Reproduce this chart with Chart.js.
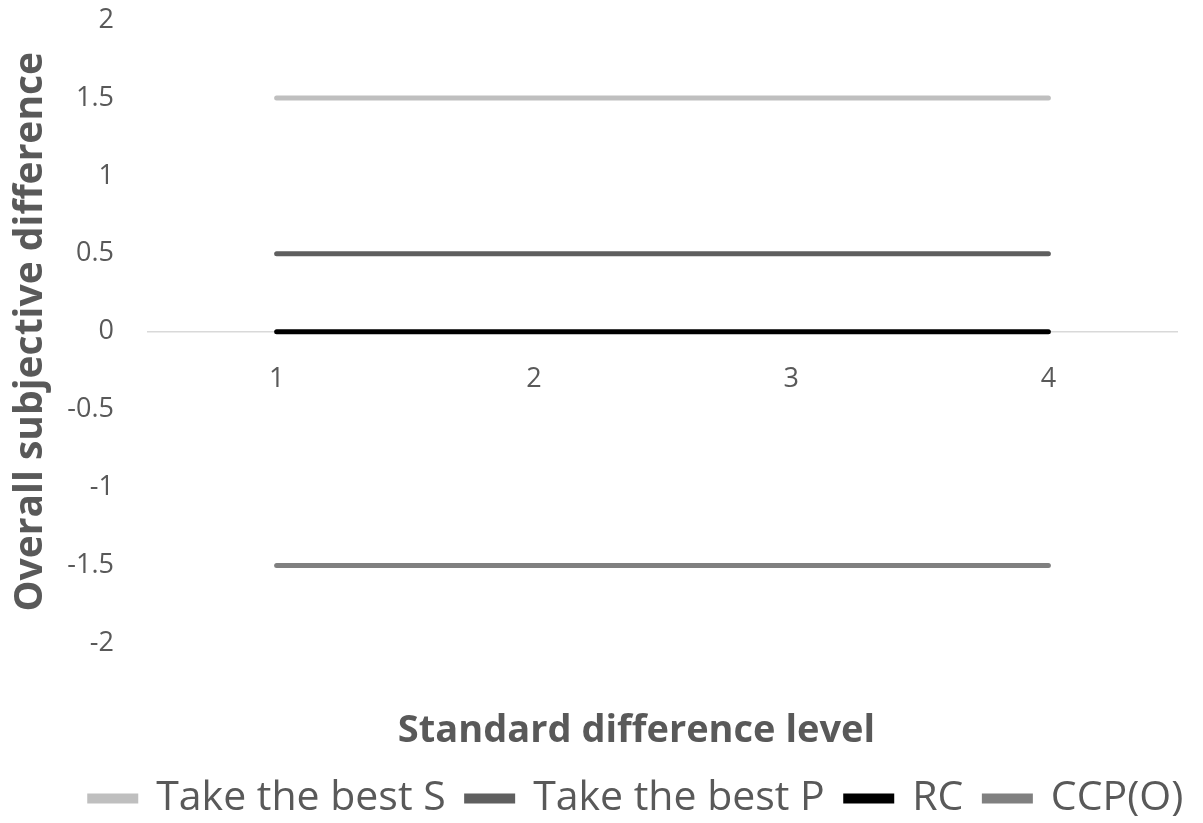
<!DOCTYPE html>
<html>
<head>
<meta charset="utf-8">
<script src="https://cdn.jsdelivr.net/npm/chart.js@4"></script>
<style>
  html, body { margin: 0; padding: 0; background: #ffffff; }
  #wrap { width: 1203px; height: 823px; }
</style>
</head>
<body>
<div id="wrap"><canvas id="chart" width="1203" height="823"></canvas></div>
<script>
// chart data
const levels = ['1', '2', '3', '4'];
const takeBestS = [1.5, 1.5, 1.5, 1.5];
const takeBestP = [0.5, 0.5, 0.5, 0.5];
const rc = [0, 0, 0, 0];
const ccpO = [-1.5, -1.5, -1.5, -1.5];
const seriesNames = ['Take the best S', 'Take the best P', 'RC', 'CCP(O)'];

const textGray = '#595959';
const fontFam = "'Open Sans', 'Noto Sans', sans-serif";

function makeSet(label, data, color) {
    return {
        label: label,
        data: data,
        borderColor: color,
        backgroundColor: color,
        borderWidth: 5,
        borderCapStyle: 'round',
        pointRadius: 0,
        pointHoverRadius: 0,
        tension: 0
    };
}

// legend and bottom title sit a bit right of the canvas centre in the original
const shiftBottomBoxes = {
    id: 'shiftBottomBoxes',
    afterLayout(chart) {
        const moves = [[chart.legend, 46, 6], [chart.titleBlock, 46, 3]];
        moves.forEach(([b, dx, dy]) => {
            if (!b) return;
            b.left += dx; b.right += dx;
            b.top += dy; b.bottom += dy;
        });
    }
};

const ctx = document.getElementById('chart').getContext('2d');
new Chart(ctx, {
    type: 'line',
    data: {
        labels: levels,
        datasets: [
            makeSet(seriesNames[0], takeBestS, '#bfbfbf'),
            makeSet(seriesNames[1], takeBestP, '#5f5f5f'),
            makeSet(seriesNames[2], rc, '#000000'),
            makeSet(seriesNames[3], ccpO, '#808080')
        ]
    },
    plugins: [shiftBottomBoxes],
    options: {
        responsive: false,
        animation: false,
        layout: { padding: { left: 4, right: 26, top: 4, bottom: 0 } },
        scales: {
            x: {
                type: 'category',
                offset: true,
                position: { y: 0 },
                grid: { display: false, drawTicks: false },
                border: { display: true, color: '#d9d9d9', width: 1.5 },
                ticks: { color: textGray, padding: 31, font: { family: fontFam, size: 27 } }
            },
            y: {
                min: -2,
                max: 2,
                afterFit: scale => {
                    scale.width = 144;
                    // tick padding is horizontal here; keep it out of the top/bottom margin
                    scale.paddingTop = 20;
                    scale.paddingBottom = 20;
                },
                grid: { display: false, drawTicks: false },
                border: { display: false },
                ticks: {
                    stepSize: 0.5,
                    color: textGray,
                    padding: 34,
                    font: { family: fontFam, size: 27 },
                    callback: v => v
                },
                title: {
                    display: true,
                    text: 'Overall subjective difference',
                    color: textGray,
                    padding: { top: 3, bottom: 14 },
                    font: { family: fontFam, size: 39, weight: 'bold' }
                }
            }
        },
        plugins: {
            title: {
                display: true,
                position: 'bottom',
                weight: 500,
                text: 'Standard difference level',
                color: textGray,
                padding: { top: 62, bottom: 0 },
                font: { family: fontFam, size: 38, weight: 'bold' }
            },
            legend: {
                position: 'bottom',
                weight: 1000,
                labels: {
                    color: textGray,
                    boxWidth: 46,
                    boxHeight: 5,
                    padding: 21,
                    font: { family: fontFam, size: 41 }
                }
            },
            tooltip: { enabled: false }
        }
    }
});
</script>
</body>
</html>
